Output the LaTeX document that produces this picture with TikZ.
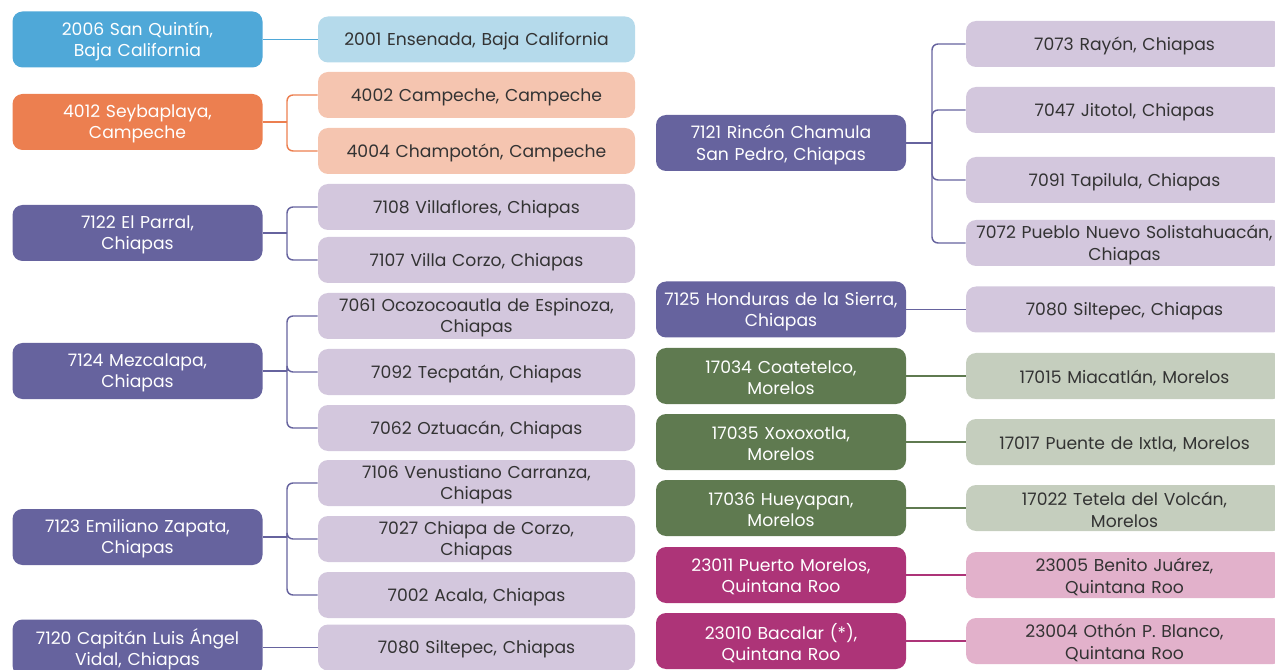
\documentclass[tikz,border=0pt]{standalone}
\usepackage{fontspec}
\setmainfont{Poppins}
\usetikzlibrary{calc}
\definecolor{bluD}{HTML}{4FA8D8}\definecolor{bluL}{HTML}{B5DAEB}
\definecolor{orgD}{HTML}{EC7F50}\definecolor{orgL}{HTML}{F5C5B0}
\definecolor{purD}{HTML}{66639E}\definecolor{purL}{HTML}{D3C7DD}
\definecolor{grnD}{HTML}{5F7A50}\definecolor{grnL}{HTML}{C5CEBE}
\definecolor{magD}{HTML}{AD3478}\definecolor{magL}{HTML}{E2B1CB}
\definecolor{txt}{HTML}{333333}
\tikzset{
  pbox/.style={rounded corners=7.5pt, minimum width=187.5pt, minimum height=42pt, inner sep=0pt},
  cbox/.style={rounded corners=7.5pt, minimum width=237.75pt, minimum height=34.5pt, inner sep=0pt},
  ptext/.style={text width=185pt, align=center, text=white, inner sep=0pt, font=\fontsize{12.9}{16}\selectfont},
  ctext/.style={text width=236pt, align=center, text=txt, inner sep=0pt, font=\fontsize{12.9}{16}\selectfont},
  link/.style={line width=1.1pt, rounded corners=4.5pt}
}
% #1 name, #2 box style, #3 fill, #4 text style, #5 position, #6 text
\newcommand\mkbox[6]{%
  \node[#2,fill=#3] (#1) at #5 {};
  \node[#4] (#1-t) at ($(#1.center)+(0,2)$) {#6};}
\begin{document}
\begin{tikzpicture}[x=0.75pt,y=-0.75pt]
\useasboundingbox (0,0) rectangle (1275,670);
\clip (0,0) rectangle (1275,670);
\coordinate (bxL) at (287,0);
\coordinate (bxR) at (932,0);
% ---- left column parents
\mkbox{p2006}{pbox}{bluD}{ptext}{(137.5,39.5)}{2006 San Quintín,\\Baja California}
\mkbox{p4012}{pbox}{orgD}{ptext}{(137.5,122)}{4012 Seybaplaya,\\Campeche}
\mkbox{p7122}{pbox}{purD}{ptext}{(137.5,233)}{7122 El Parral,\\Chiapas}
\mkbox{p7124}{pbox}{purD}{ptext}{(137.5,371)}{7124 Mezcalapa,\\Chiapas}
\mkbox{p7123}{pbox}{purD}{ptext}{(137.5,537)}{7123 Emiliano Zapata,\\Chiapas}
\mkbox{p7120}{pbox}{purD}{ptext}{(137.5,647.5)}{7120 Capitán Luis Ángel\\Vidal, Chiapas}
% ---- left column children
\mkbox{c2001}{cbox}{bluL}{ctext}{(476.5,39.5)}{2001 Ensenada, Baja California}
\mkbox{c4002}{cbox}{orgL}{ctext}{(476.5,95)}{4002 Campeche, Campeche}
\mkbox{c4004}{cbox}{orgL}{ctext}{(476.5,151)}{4004 Champotón, Campeche}
\mkbox{c7108}{cbox}{purL}{ctext}{(476.5,207)}{7108 Villaflores, Chiapas}
\mkbox{c7107}{cbox}{purL}{ctext}{(476.5,260)}{7107 Villa Corzo, Chiapas}
\mkbox{c7061}{cbox}{purL}{ctext}{(476.5,316)}{7061 Ocozocoautla de Espinoza,\\Chiapas}
\mkbox{c7092}{cbox}{purL}{ctext}{(476.5,372)}{7092 Tecpatán, Chiapas}
\mkbox{c7062}{cbox}{purL}{ctext}{(476.5,428)}{7062 Oztuacán, Chiapas}
\mkbox{c7106}{cbox}{purL}{ctext}{(476.5,483)}{7106 Venustiano Carranza,\\Chiapas}
\mkbox{c7027}{cbox}{purL}{ctext}{(476.5,539)}{7027 Chiapa de Corzo,\\Chiapas}
\mkbox{c7002}{cbox}{purL}{ctext}{(476.5,595)}{7002 Acala, Chiapas}
\mkbox{c7080a}{cbox}{purL}{ctext}{(476.5,647.5)}{7080 Siltepec, Chiapas}
% ---- right column parents
\mkbox{p7121}{pbox}{purD}{ptext}{(781,143)}{7121 Rincón Chamula\\San Pedro, Chiapas}
\mkbox{p7125}{pbox}{purD}{ptext}{(781,309.5)}{7125 Honduras de la Sierra,\\Chiapas}
\mkbox{p17034}{pbox}{grnD}{ptext}{(781,376)}{17034 Coatetelco,\\Morelos}
\mkbox{p17035}{pbox}{grnD}{ptext}{(781,442)}{17035 Xoxoxotla,\\Morelos}
\mkbox{p17036}{pbox}{grnD}{ptext}{(781,508)}{17036 Hueyapan,\\Morelos}
\mkbox{p23011}{pbox}{magD}{ptext}{(781,575)}{23011 Puerto Morelos,\\Quintana Roo}
\mkbox{p23010}{pbox}{magD}{ptext}{(781,641)}{23010 Bacalar (*),\\Quintana Roo}
% ---- right column children
\mkbox{c7073}{cbox}{purL}{ctext}{(1124.5,44)}{7073 Rayón, Chiapas}
\mkbox{c7047}{cbox}{purL}{ctext}{(1124.5,110)}{7047 Jitotol, Chiapas}
\mkbox{c7091}{cbox}{purL}{ctext}{(1124.5,180)}{7091 Tapilula, Chiapas}
\mkbox{c7072}{cbox}{purL}{ctext}{(1124.5,243)}{7072 Pueblo Nuevo Solistahuacán,\\Chiapas}
\mkbox{c7080b}{cbox}{purL}{ctext}{(1124.5,309.5)}{7080 Siltepec, Chiapas}
\mkbox{c17015}{cbox}{grnL}{ctext}{(1124.5,376)}{17015 Miacatlán, Morelos}
\mkbox{c17017}{cbox}{grnL}{ctext}{(1124.5,442)}{17017 Puente de Ixtla, Morelos}
\mkbox{c17022}{cbox}{grnL}{ctext}{(1124.5,508)}{17022 Tetela del Volcán,\\Morelos}
\mkbox{c23005}{cbox}{magL}{ctext}{(1124.5,575)}{23005 Benito Juárez,\\Quintana Roo}
\mkbox{c23004}{cbox}{magL}{ctext}{(1124.5,641)}{23004 Othón P. Blanco,\\Quintana Roo}
% ---- connectors
\draw[link,bluD] (p2006.east) -- (c2001.west);
\draw[link,orgD] (p4012.east) -- (p4012.east -| bxL);
\foreach \c in {c4002,c4004} \draw[link,orgD] (p4012.east -| bxL) |- (\c.west);
\draw[link,purD] (p7122.east) -- (p7122.east -| bxL);
\foreach \c in {c7108,c7107} \draw[link,purD] (p7122.east -| bxL) |- (\c.west);
\draw[link,purD] (p7124.east) -- (p7124.east -| bxL);
\foreach \c in {c7061,c7092,c7062} \draw[link,purD] (p7124.east -| bxL) |- (\c.west);
\draw[link,purD] (p7123.east) -- (p7123.east -| bxL);
\foreach \c in {c7106,c7027,c7002} \draw[link,purD] (p7123.east -| bxL) |- (\c.west);
\draw[link,purD] (p7120.east) -- (c7080a.west);
\draw[link,purD] (p7121.east) -- (p7121.east -| bxR);
\foreach \c in {c7073,c7047,c7091,c7072} \draw[link,purD] (p7121.east -| bxR) |- (\c.west);
\draw[link,purD] (p7125.east) -- (c7080b.west);
\draw[link,grnD] (p17034.east) -- (c17015.west);
\draw[link,grnD] (p17035.east) -- (c17017.west);
\draw[link,grnD] (p17036.east) -- (c17022.west);
\draw[link,magD] (p23011.east) -- (c23005.west);
\draw[link,magD] (p23010.east) -- (c23004.west);
\end{tikzpicture}
\end{document}
